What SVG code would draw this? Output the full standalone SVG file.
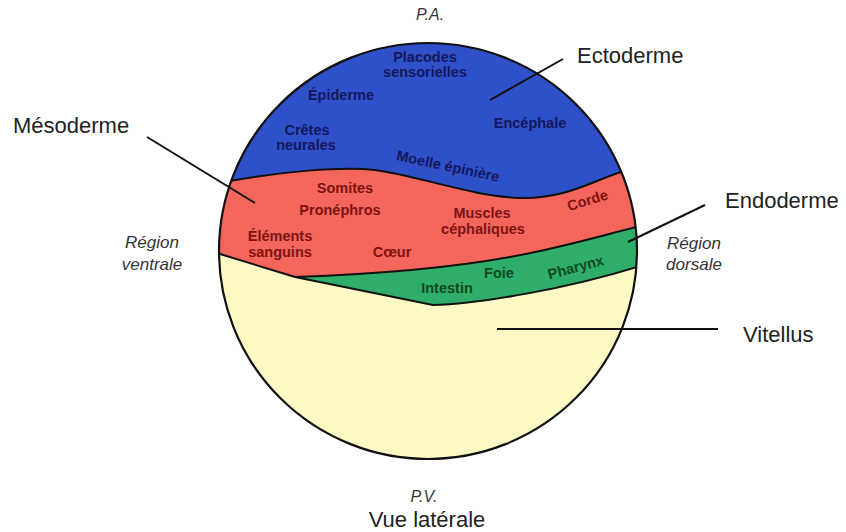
<svg xmlns="http://www.w3.org/2000/svg" width="846" height="532" viewBox="0 0 846 532">
<style>
.lbl{font-family:"Liberation Sans",Arial,sans-serif;font-size:22px;fill:#222}
.it{font-family:"Liberation Sans",Arial,sans-serif;font-size:17px;font-style:italic;fill:#333;text-anchor:middle}
.in{font-family:"Liberation Sans",Arial,sans-serif;font-size:14.5px;font-weight:bold;text-anchor:middle}
.tb{fill:#15175c}
.tr{fill:#7c1414}
.tg{fill:#0d4a1c}
.bd{fill:none;stroke:#111;stroke-width:2;stroke-linejoin:round}
.ld{stroke:#111;stroke-width:2}
</style>
<defs>
<clipPath id="egg"><ellipse cx="428" cy="251" rx="209" ry="208"/></clipPath>
</defs>
<rect width="846" height="532" fill="#fff"/>
<g id="embryo">
<g clip-path="url(#egg)">
<ellipse id="vitellus" cx="428" cy="251" rx="209" ry="208" fill="#fdf9c4"/>
<path id="ectoderme" fill="#2e50c8" d="M200,184 L230,181 C280,172 340,166 375,170 C420,176 470,196 520,198 C565,199 590,182 621,172 L660,160 L660,20 L200,20 Z"/>
<path id="mesoderme" fill="#f4665c" d="M200,184 L230,181 C280,172 340,166 375,170 C420,176 470,196 520,198 C565,199 590,182 621,172 L660,160 L660,220 L640,226 C600,236 560,248 510,257 C450,268 380,274 295,277 L220,254 L200,248 Z"/>
<path id="endoderme" fill="#2fad6b" d="M295,277 C380,274 450,268 510,257 C560,248 600,236 640,226 L660,220 L660,262 L640,266 C570,288 480,304 433,305 Z"/>
<path class="bd" d="M200,184 L230,181 C280,172 340,166 375,170 C420,176 470,196 520,198 C565,199 590,182 621,172 L660,160"/>
<path class="bd" d="M295,277 C380,274 450,268 510,257 C560,248 600,236 640,226 L660,220"/>
<path class="bd" d="M200,248 L220,254 L295,277 L433,305 C480,304 570,288 640,266 L660,262"/>
</g>
<ellipse cx="428" cy="251" rx="209" ry="208" fill="none" stroke="#111" stroke-width="2.2"/>
</g>
<g id="connectors">
<line class="ld" x1="563" y1="59" x2="490" y2="100"/>
<line class="ld" x1="147" y1="137" x2="255" y2="203"/>
<line class="ld" x1="705" y1="205" x2="628" y2="242"/>
<line class="ld" x1="497" y1="329" x2="718" y2="329"/>
</g>
<g id="ecto-texts">
<text class="in tb" x="425" y="62">Placodes</text>
<text class="in tb" x="425" y="77">sensorielles</text>
<text class="in tb" x="341" y="100">Épiderme</text>
<text class="in tb" x="307" y="135">Crêtes</text>
<text class="in tb" x="306" y="150">neurales</text>
<text class="in tb" x="530" y="128">Encéphale</text>
<text class="in tb" transform="translate(447,171) rotate(12)">Moelle épinière</text>
</g>
<g id="meso-texts">
<text class="in tr" x="345" y="193">Somites</text>
<text class="in tr" x="340" y="215">Pronéphros</text>
<text class="in tr" x="280" y="241">Éléments</text>
<text class="in tr" x="280" y="257">sanguins</text>
<text class="in tr" x="392" y="257">Cœur</text>
<text class="in tr" x="482" y="218">Muscles</text>
<text class="in tr" x="483" y="234">céphaliques</text>
<text class="in tr" transform="translate(589,205) rotate(-17)">Corde</text>
</g>
<g id="endo-texts">
<text class="in tg" x="499" y="278">Foie</text>
<text class="in tg" transform="translate(577,272) rotate(-15)">Pharynx</text>
<text class="in tg" x="447" y="293">Intestin</text>
</g>
<g id="labels">
<text class="it" x="430" y="20" style="font-size:16px">P.A.</text>
<text class="it" x="424" y="502" style="font-size:16px">P.V.</text>
<text class="lbl" x="577" y="63">Ectoderme</text>
<text class="lbl" x="13" y="133">Mésoderme</text>
<text class="lbl" x="725" y="208">Endoderme</text>
<text class="lbl" x="743" y="342">Vitellus</text>
<text class="lbl" x="427" y="527" text-anchor="middle">Vue latérale</text>
<text class="it" x="152" y="248">Région</text>
<text class="it" x="152" y="270">ventrale</text>
<text class="it" x="694" y="249">Région</text>
<text class="it" x="694" y="270">dorsale</text>
</g>
</svg>
